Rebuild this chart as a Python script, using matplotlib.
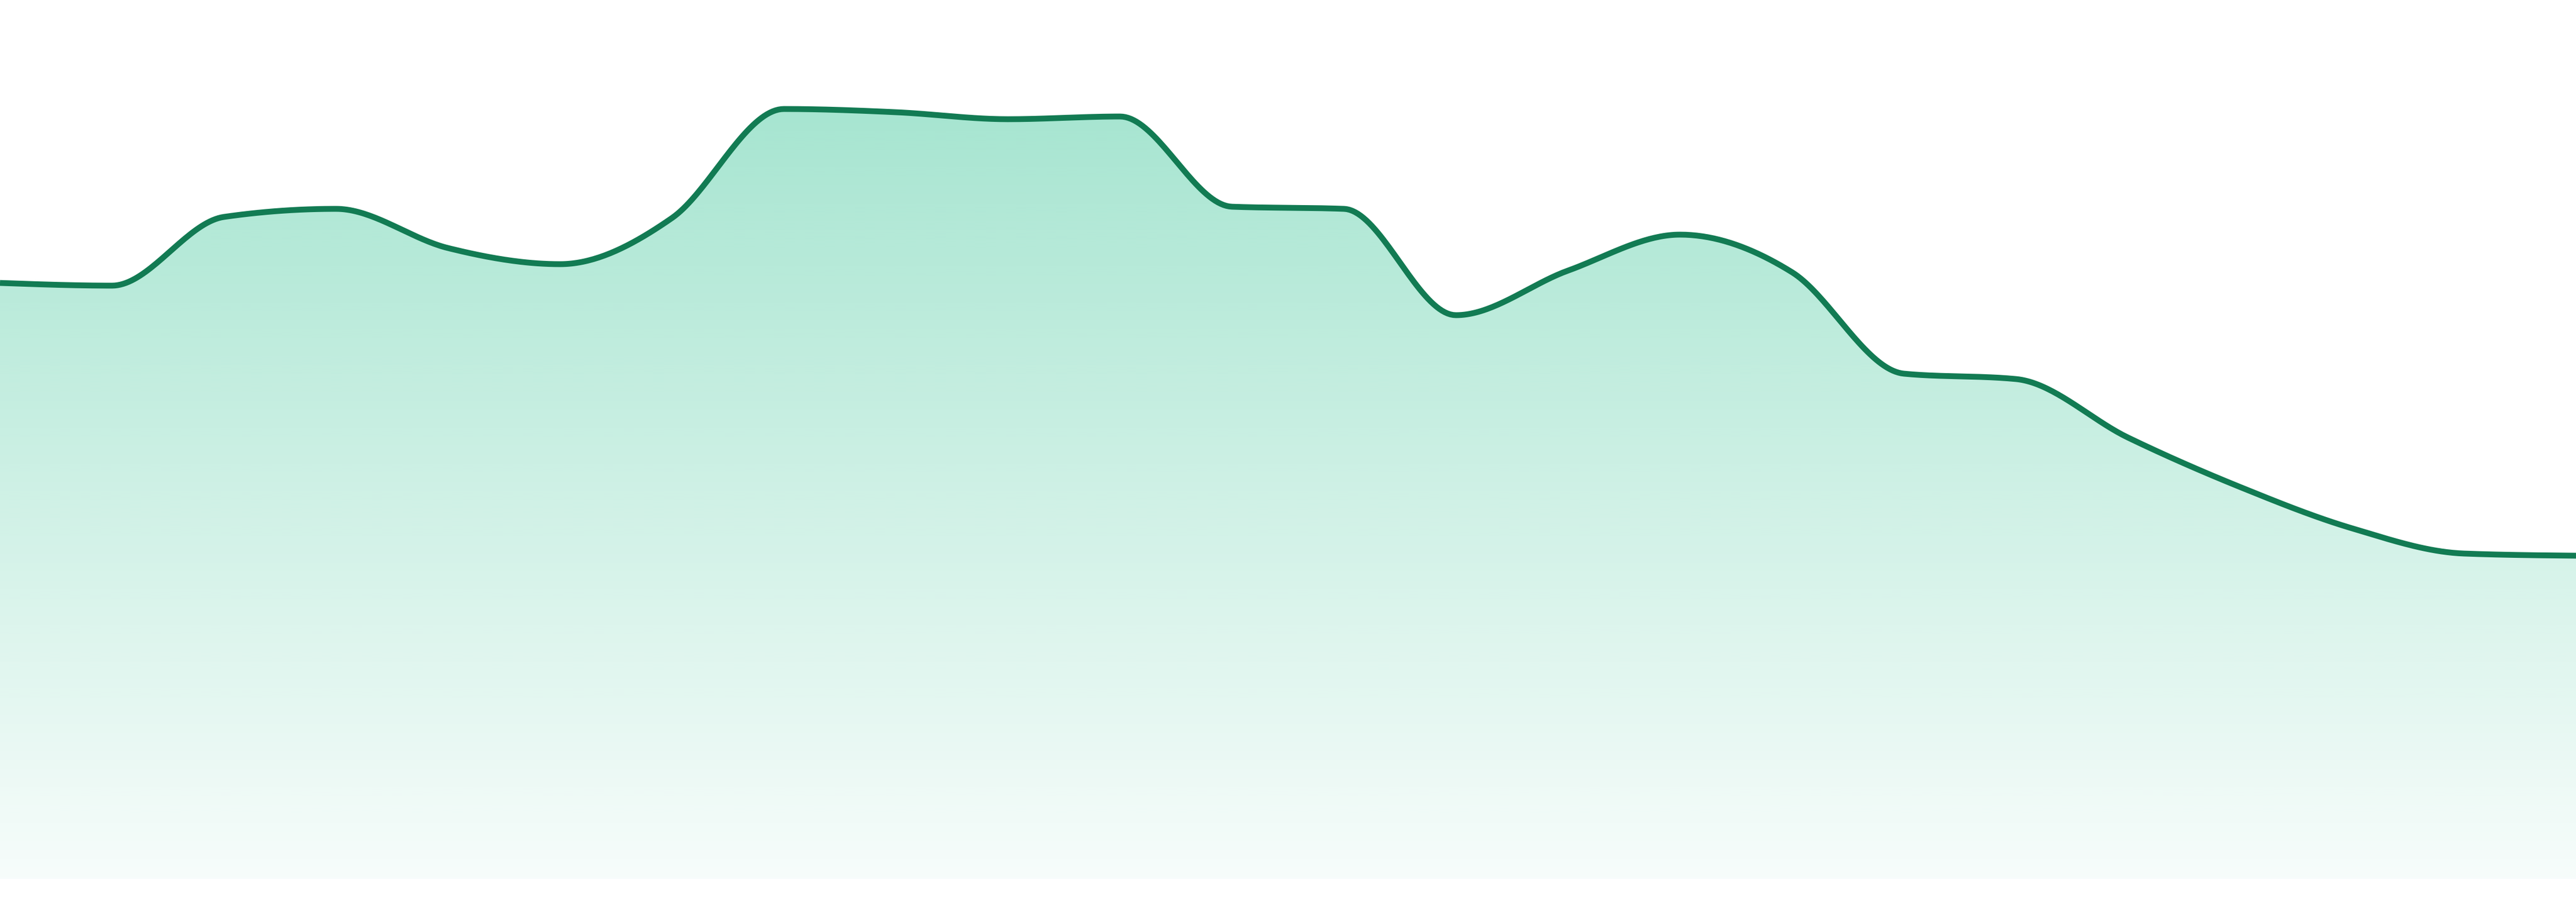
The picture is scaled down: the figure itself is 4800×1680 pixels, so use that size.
import numpy as np
import matplotlib
matplotlib.use('Agg')
from matplotlib import pyplot as plt
from matplotlib.colors import to_rgb
from matplotlib.patches import Polygon

# values (one point per step)
steps = list(range(24))
values = [111.0, 110.5, 123.3, 124.8, 117.5, 114.5, 123.1, 143.4, 142.8, 141.5, 142.0, 125.2,
          124.8, 105.0, 113.3, 120.0, 113.0, 94.1, 93.1, 82.2, 73.0, 65.3, 60.6, 60.2]

line_color = '#127B53'
fill_color = '#10B981'


# monotone cubic curve (like d3 curveMonotoneX) for drawing the smooth line
def monotone_curve(x, y, n=40):
    x = np.asarray(x, float)
    y = np.asarray(y, float)
    h = np.diff(x)
    s = np.diff(y) / h
    t = np.zeros(len(x))
    for i in range(1, len(x) - 1):
        s0, s1 = s[i - 1], s[i]
        p = (s0 * h[i] + s1 * h[i - 1]) / (h[i - 1] + h[i])
        t[i] = (np.sign(s0) + np.sign(s1)) * min(abs(s0), abs(s1), 0.5 * abs(p))
    t[0] = (3 * s[0] - t[1]) / 2
    t[-1] = (3 * s[-1] - t[-2]) / 2
    xs, ys = [], []
    for i in range(len(x) - 1):
        u = np.linspace(0, 1, n, endpoint=(i == len(x) - 2))
        h00 = 2 * u**3 - 3 * u**2 + 1
        h10 = u**3 - 2 * u**2 + u
        h01 = -2 * u**3 + 3 * u**2
        h11 = u**3 - u**2
        xs.append(x[i] + u * h[i])
        ys.append(h00 * y[i] + h10 * h[i] * t[i] + h01 * y[i + 1] + h11 * h[i] * t[i + 1])
    return np.concatenate(xs), np.concatenate(ys)


cx, cy = monotone_curve(steps, values)

fig = plt.figure(figsize=(16, 5.6), dpi=300)
ax = fig.add_axes([0, 43 / 1680, 1, 1637 / 1680])
ax.axis('off')

# gradient fill under the line, clipped to the area shape
top = max(values)
rgb = to_rgb(fill_color)
grad = np.zeros((256, 1, 4))
grad[:, 0, :3] = rgb
grad[:, 0, 3] = np.linspace(0.37, 0.035, 256)
img = ax.imshow(grad, aspect='auto', extent=[0, 23, 0, top], origin='upper',
                interpolation='bilinear', zorder=1)
poly = Polygon(np.column_stack([np.r_[cx, cx[-1], cx[0]], np.r_[cy, 0, 0]]),
               closed=True, facecolor='none', edgecolor='none')
ax.add_patch(poly)
img.set_clip_path(poly)

ax.plot(cx, cy, color=line_color, linewidth=2.6, solid_capstyle='butt', zorder=3)

ax.set_xlim(0, 23)
ax.set_ylim(0, 163.7)

fig.savefig('out.png', dpi=300, facecolor='white')
